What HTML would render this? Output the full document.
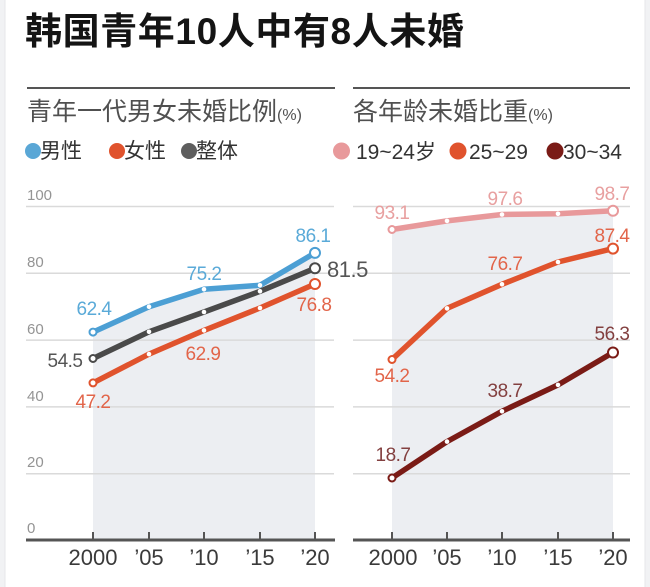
<!DOCTYPE html>
<html><head><meta charset="utf-8"><style>
html,body{margin:0;padding:0;background:#f1f2f4;}
svg{display:block;}
.cjk{font-family:"Liberation Sans","Noto Sans CJK SC",sans-serif;}
.num{font-family:"Liberation Sans",sans-serif;}
</style></head><body>
<svg width="650" height="587" viewBox="0 0 650 587" xmlns="http://www.w3.org/2000/svg">
<rect x="0" y="0" width="650" height="587" fill="#f1f2f4"/>
<rect x="5" y="-12" width="640" height="611" rx="10" fill="#ffffff" stroke="#e6e7ea" stroke-width="1"/>

<text x="25" y="44" class="cjk" font-size="37" font-weight="bold" fill="#141414" letter-spacing="0.6">韩国青年10人中有8人未婚</text>

<line x1="27" y1="88" x2="335" y2="88" stroke="#555" stroke-width="2"/>
<line x1="353" y1="88" x2="630" y2="88" stroke="#555" stroke-width="2"/>

<text x="27" y="120" class="cjk" font-size="25" fill="#505050">青年一代男女未婚比例<tspan font-size="16">(%)</tspan></text>
<text x="353" y="120" class="cjk" font-size="25" fill="#505050">各年龄未婚比重<tspan font-size="16">(%)</tspan></text>

<!-- legends -->
<circle cx="33" cy="151" r="8" fill="#5aa7d6"/>
<text x="40" y="158" class="cjk" font-size="21" fill="#333">男性</text>
<circle cx="117" cy="151" r="8" fill="#e0532d"/>
<text x="124" y="158" class="cjk" font-size="21" fill="#333">女性</text>
<circle cx="189" cy="151" r="8" fill="#5e5e5e"/>
<text x="196" y="158" class="cjk" font-size="21" fill="#333">整体</text>

<circle cx="341.5" cy="151" r="8.5" fill="#e8999b"/>
<text x="356" y="159" class="cjk" font-size="21" fill="#333">19~24岁</text>
<circle cx="458" cy="151" r="8.5" fill="#e0532d"/>
<text x="469" y="159" class="num" font-size="21" fill="#333">25~29</text>
<circle cx="555" cy="151" r="8.5" fill="#7a1b16"/>
<text x="563" y="159" class="num" font-size="21" fill="#333">30~34</text>

<!-- shaded areas -->
<polygon points="93,332.1 149,306.7 204,289.3 260,285.3 315,252.9 315,540 93,540" fill="#eceef2"/>
<polygon points="392,229.5 447,220.9 502,214.5 558,213.8 613,210.8 613,540 392,540" fill="#eceef2"/>

<!-- gridlines -->
<g stroke="#dadada" stroke-width="1.5">
<line x1="26" y1="206.5" x2="334" y2="206.5"/>
<line x1="26" y1="273.3" x2="334" y2="273.3"/>
<line x1="26" y1="340.1" x2="334" y2="340.1"/>
<line x1="26" y1="406.9" x2="334" y2="406.9"/>
<line x1="26" y1="473.7" x2="334" y2="473.7"/>
<line x1="353" y1="206.5" x2="630" y2="206.5"/>
<line x1="353" y1="273.3" x2="630" y2="273.3"/>
<line x1="353" y1="340.1" x2="630" y2="340.1"/>
<line x1="353" y1="406.9" x2="630" y2="406.9"/>
<line x1="353" y1="473.7" x2="630" y2="473.7"/>
</g>

<!-- y labels -->
<g class="num" font-size="15" fill="#949494">
<text x="27" y="200">100</text>
<text x="27" y="267">80</text>
<text x="27" y="334">60</text>
<text x="27" y="401">40</text>
<text x="27" y="467">20</text>
<text x="27" y="533">0</text>
</g>

<!-- axes -->
<line x1="26" y1="540" x2="335" y2="540" stroke="#555" stroke-width="3"/>
<line x1="353" y1="540" x2="630" y2="540" stroke="#555" stroke-width="3"/>
<g stroke="#555" stroke-width="2">
<line x1="93" y1="532" x2="93" y2="540"/><line x1="149" y1="532" x2="149" y2="540"/><line x1="204" y1="532" x2="204" y2="540"/><line x1="260" y1="532" x2="260" y2="540"/><line x1="315" y1="532" x2="315" y2="540"/>
<line x1="392" y1="532" x2="392" y2="540"/><line x1="447" y1="532" x2="447" y2="540"/><line x1="502" y1="532" x2="502" y2="540"/><line x1="558" y1="532" x2="558" y2="540"/><line x1="613" y1="532" x2="613" y2="540"/>
</g>
<g class="num" font-size="22" fill="#3a3a3a" text-anchor="middle">
<text x="93" y="565">2000</text><text x="149" y="565">’05</text><text x="204" y="565">’10</text><text x="260" y="565">’15</text><text x="315" y="565">’20</text>
<text x="393" y="565">2000</text><text x="447" y="565">’05</text><text x="502" y="565">’10</text><text x="558" y="565">’15</text><text x="613" y="565">’20</text>
</g>

<!-- series -->
<g fill="none" stroke-width="5.5" stroke-linejoin="round" stroke-linecap="round">
<polyline points="93,382.9 149,354.1 204,330.4 260,308.0 315,284.0" stroke="#e0532d"/>
<polyline points="93,358.5 149,331.8 204,312.0 260,291.3 315,268.3" stroke="#4a4a4a"/>
<polyline points="93,332.1 149,306.7 204,289.3 260,285.3 315,252.9" stroke="#4c9fd4"/>
<polyline points="392,478.0 447,441.6 502,411.3 558,384.9 613,352.5" stroke="#7a1b16"/>
<polyline points="392,359.5 447,308.4 502,284.3 558,262.0 613,248.6" stroke="#e0532d"/>
<polyline points="392,229.5 447,220.9 502,214.5 558,213.8 613,210.8" stroke="#e8999b"/>
</g>
<!-- markers -->
<g fill="#fff">
<circle cx="149" cy="354.1" r="2.3"/><circle cx="204" cy="330.4" r="2.3"/><circle cx="260" cy="308.0" r="2.3"/>
<circle cx="149" cy="331.8" r="2.3"/><circle cx="204" cy="312.0" r="2.3"/><circle cx="260" cy="291.3" r="2.3"/>
<circle cx="149" cy="306.7" r="2.3"/><circle cx="204" cy="289.3" r="2.3"/><circle cx="260" cy="285.3" r="2.3"/>
<circle cx="447" cy="441.6" r="2.3"/><circle cx="502" cy="411.3" r="2.3"/><circle cx="558" cy="384.9" r="2.3"/>
<circle cx="447" cy="308.4" r="2.3"/><circle cx="502" cy="284.3" r="2.3"/><circle cx="558" cy="262.0" r="2.3"/>
<circle cx="447" cy="220.9" r="2.3"/><circle cx="502" cy="214.5" r="2.3"/><circle cx="558" cy="213.8" r="2.3"/>
</g>
<g fill="#fff" stroke-width="2">
<circle cx="93" cy="382.9" r="3.5" stroke="#e0532d"/><circle cx="315" cy="284.0" r="5" stroke="#e0532d"/>
<circle cx="93" cy="358.5" r="3.5" stroke="#4a4a4a"/><circle cx="315" cy="268.3" r="5" stroke="#4a4a4a"/>
<circle cx="93" cy="332.1" r="3.5" stroke="#4c9fd4"/><circle cx="315" cy="252.9" r="5" stroke="#4c9fd4"/>
<circle cx="392" cy="478.0" r="3.5" stroke="#7a1b16"/><circle cx="613" cy="352.5" r="5" stroke="#7a1b16"/>
<circle cx="392" cy="359.5" r="3.5" stroke="#e0532d"/><circle cx="613" cy="248.6" r="5" stroke="#e0532d"/>
<circle cx="392" cy="229.5" r="3.5" stroke="#e8999b"/><circle cx="613" cy="210.8" r="5" stroke="#e8999b"/>
</g>

<!-- value labels -->
<g class="num" font-size="19" text-anchor="middle" letter-spacing="-0.5">
<text x="94" y="315" fill="#5aaad8">62.4</text>
<text x="204" y="280" fill="#5aaad8">75.2</text>
<text x="313" y="242" fill="#5aaad8">86.1</text>
<text x="65" y="367" fill="#555">54.5</text>
<text x="203" y="360" fill="#e2654a">62.9</text>
<text x="314" y="311" fill="#e2654a">76.8</text>
<text x="93" y="408" fill="#e2654a">47.2</text>
<text x="392" y="219" fill="#e8a0a0">93.1</text>
<text x="505" y="205" fill="#e8a0a0">97.6</text>
<text x="612" y="200" fill="#e8a0a0">98.7</text>
<text x="612" y="242" fill="#e2654a">87.4</text>
<text x="505" y="270" fill="#e2654a">76.7</text>
<text x="392" y="382" fill="#e2654a">54.2</text>
<text x="612" y="340" fill="#834040">56.3</text>
<text x="505" y="397" fill="#834040">38.7</text>
<text x="393" y="461" fill="#834040">18.7</text>
</g>
<text x="327" y="277" class="num" font-size="22" fill="#555" letter-spacing="-0.5">81.5</text>
</svg>
</body></html>
